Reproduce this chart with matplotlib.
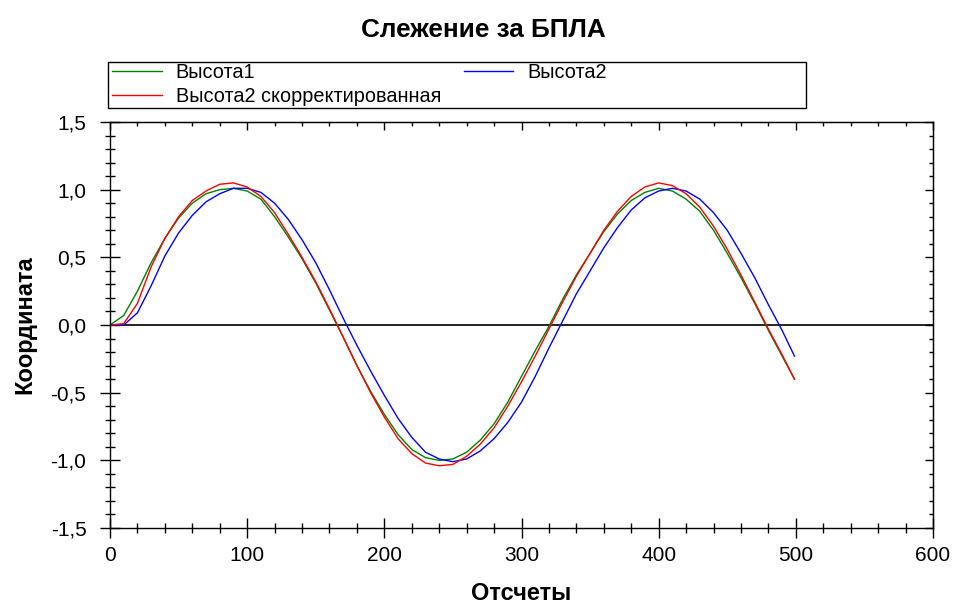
import numpy as np
import matplotlib
matplotlib.use('Agg')
import matplotlib.pyplot as plt
from matplotlib.ticker import MultipleLocator, FuncFormatter
from matplotlib.patches import Rectangle

plt.rcParams['font.family'] = ['Liberation Sans', 'DejaVu Sans']

# Отсчеты (каждый 10-й) и значения координаты
samples = [0, 10, 20, 30, 40, 50, 60, 70, 80, 90,
           100, 110, 120, 130, 140, 150, 160, 170, 180, 190,
           200, 210, 220, 230, 240, 250, 260, 270, 280, 290,
           300, 310, 320, 330, 340, 350, 360, 370, 380, 390,
           400, 410, 420, 430, 440, 450, 460, 470, 480, 490, 499]

height1 = [0.00, 0.07, 0.25, 0.46, 0.64, 0.79, 0.90, 0.97, 1.00, 1.01,
           0.99, 0.93, 0.80, 0.65, 0.49, 0.31, 0.11, -0.09, -0.30, -0.49,
           -0.66, -0.81, -0.92, -0.98, -1.00, -0.99, -0.94, -0.85, -0.73, -0.57,
           -0.38, -0.19, -0.01, 0.19, 0.37, 0.53, 0.69, 0.82, 0.92, 0.98,
           1.01, 0.99, 0.93, 0.84, 0.70, 0.53, 0.35, 0.16, -0.04, -0.23, -0.40]

height2 = [0.00, 0.00, 0.09, 0.29, 0.51, 0.68, 0.81, 0.91, 0.97, 1.01,
           1.01, 0.98, 0.90, 0.78, 0.63, 0.46, 0.26, 0.05, -0.15, -0.34,
           -0.52, -0.69, -0.83, -0.94, -0.99, -1.01, -0.99, -0.93, -0.84, -0.72,
           -0.57, -0.38, -0.17, 0.03, 0.23, 0.40, 0.57, 0.72, 0.85, 0.94,
           0.99, 1.01, 0.99, 0.93, 0.83, 0.70, 0.53, 0.35, 0.15, -0.04, -0.23]

height2_corr = [0.00, 0.01, 0.16, 0.43, 0.64, 0.80, 0.92, 0.99, 1.04, 1.05,
                1.02, 0.95, 0.83, 0.67, 0.50, 0.32, 0.12, -0.09, -0.30, -0.50,
                -0.68, -0.84, -0.95, -1.02, -1.04, -1.03, -0.97, -0.88, -0.76, -0.60,
                -0.42, -0.23, -0.03, 0.17, 0.36, 0.53, 0.70, 0.84, 0.95, 1.02,
                1.05, 1.03, 0.97, 0.87, 0.73, 0.56, 0.37, 0.17, -0.03, -0.22, -0.40]

W, H = 958, 606
fig = plt.figure(figsize=(W / 100, H / 100), dpi=100)
ax = fig.add_axes([110 / W, 1 - 528 / H, 823 / W, 406 / H])

ax.axhline(0, color='black', lw=1.2, zorder=1)
l1, = ax.plot(samples, height1, color='#008000', lw=1.0, label='Высота1')
l2, = ax.plot(samples, height2, color='#0000ff', lw=1.0, label='Высота2')
l3, = ax.plot(samples, height2_corr, color='#ff0000', lw=1.0,
              label='Высота2 скорректированная')

ax.set_xlim(0, 600)
ax.set_ylim(-1.5, 1.5)
ax.xaxis.set_major_locator(MultipleLocator(100))
ax.xaxis.set_minor_locator(MultipleLocator(20))
ax.yaxis.set_major_locator(MultipleLocator(0.5))
ax.yaxis.set_minor_locator(MultipleLocator(0.1))
ax.yaxis.set_major_formatter(FuncFormatter(lambda v, p: f'{v:.1f}'.replace('.', ',')))

for s in ax.spines.values():
    s.set_linewidth(1.0)
ax.tick_params(which='both', direction='inout', width=1.0, labelsize=15)
ax.tick_params(which='major', length=14)
ax.tick_params(which='minor', length=7)
ax.tick_params(axis='y', pad=10)
ax.tick_params(axis='x', pad=6)

# короткие внутренние риски сверху и справа
top = ax.secondary_xaxis('top')
right = ax.secondary_yaxis('right')
top.xaxis.set_major_locator(MultipleLocator(100))
top.xaxis.set_minor_locator(MultipleLocator(20))
right.yaxis.set_major_locator(MultipleLocator(0.5))
right.yaxis.set_minor_locator(MultipleLocator(0.1))
for sec in (top, right):
    sec.tick_params(which='both', direction='in', width=1.0,
                    labelleft=False, labelright=False, labeltop=False, labelbottom=False)
    sec.tick_params(which='major', length=6)
    sec.tick_params(which='minor', length=3)

ax.set_xlabel('Отсчеты', fontsize=17, fontweight='bold', labelpad=12)
ax.set_ylabel('Координата', fontsize=17, fontweight='bold', labelpad=10)
fig.text(483 / W, 1 - 30 / H, 'Слежение за БПЛА', fontsize=18.8, fontweight='bold',
         ha='center', va='center')

fig.legend(handles=[l1, l3, l2], ncol=2, loc='upper left',
           bbox_to_anchor=(111 / W, 1 - 62 / H), frameon=False, fontsize=14.3,
           handlelength=2.5, handletextpad=0.7, columnspacing=1.15,
           labelspacing=0.25, borderpad=0.05, borderaxespad=0)
fig.add_artist(Rectangle((108 / W, 1 - 108 / H), 698 / W, 46 / H,
                         transform=fig.transFigure, fill=False, ec='black', lw=1.0))

fig.savefig('out.png', dpi=100)
